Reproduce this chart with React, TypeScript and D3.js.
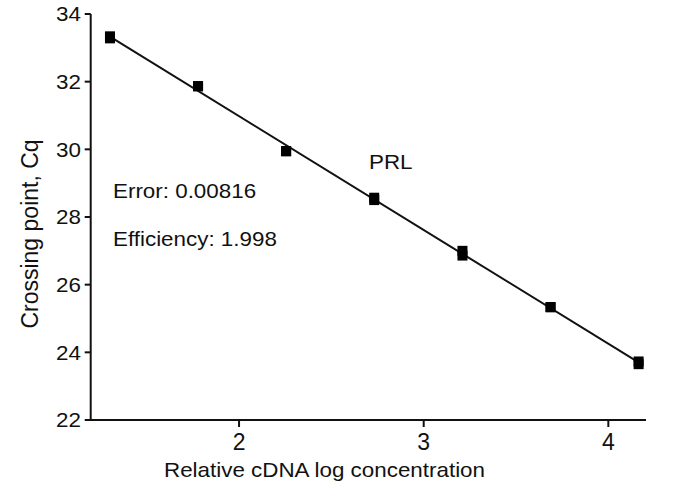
import React from "react";
import * as d3 from "d3";

const logConc = [1.301, 1.778, 2.255, 2.732, 3.21, 3.687, 4.164];
const cqRep1 = [33.34, 31.87, 29.95, 28.57, 27.0, 25.34, 23.73];
const cqRep2 = [33.28, 31.86, 29.94, 28.5, 26.86, 25.33, 23.65];
const xTicks = [2, 3, 4];
const yTicks = [22, 24, 26, 28, 30, 32, 34];
const geneLabel = "PRL";
const errorText = "Error: 0.00816";
const efficiencyText = "Efficiency: 1.998";
const xTitle = "Relative cDNA log concentration";
const yTitle = "Crossing point, Cq";

const W = 685;
const H = 499;
const FONT = "'Liberation Sans', Arial, Helvetica, sans-serif";
const SX = 1.12;

export default function App() {
  const x = d3.scaleLinear().domain([1.1966, 4.204]).range([90.7, 646]);
  const y = d3.scaleLinear().domain([22, 34]).range([420, 14]);

  const pts: { x: number; y: number }[] = [];
  logConc.forEach((c, i) => {
    pts.push({ x: c, y: cqRep1[i] });
    pts.push({ x: c, y: cqRep2[i] });
  });
  const mx = d3.mean(pts, (p) => p.x) as number;
  const my = d3.mean(pts, (p) => p.y) as number;
  const sxy = d3.sum(pts, (p) => (p.x - mx) * (p.y - my));
  const sxx = d3.sum(pts, (p) => (p.x - mx) * (p.x - mx));
  const slope = sxy / sxx;
  const intercept = my - slope * mx;
  const x0 = d3.min(logConc) as number;
  const x1 = d3.max(logConc) as number;
  const line = d3
    .line<number>()
    .x((d) => x(d))
    .y((d) => y(intercept + slope * d));

  const ms = 10;

  const stretched = (tx: number, ty: number, txt: string, anchor: string, size = 20) => (
    <g transform={`translate(${tx},${ty}) scale(${SX},1)`}>
      <text x={0} y={0} textAnchor={anchor as any} fontSize={size} fontFamily={FONT} fill="#111">
        {txt}
      </text>
    </g>
  );

  return (
    <svg
      width={W}
      height={H}
      style={{ position: "absolute", left: 0, top: 0, background: "#fff" }}
    >
      <rect x={0} y={0} width={W} height={H} fill="#fff" />
      {/* axes */}
      <line x1={x.range()[0]} x2={x.range()[0]} y1={y(34)} y2={y(22)} stroke="#111" strokeWidth={2} />
      <line x1={x.range()[0] - 1} x2={x.range()[1]} y1={y(22)} y2={y(22)} stroke="#111" strokeWidth={2} />
      {yTicks.map((t) => (
        <g key={"y" + t}>
          <line x1={x.range()[0] - 6} x2={x.range()[0]} y1={y(t)} y2={y(t)} stroke="#111" strokeWidth={2} />
          {stretched(81, y(t) + 7.3, String(t), "end")}
        </g>
      ))}
      {xTicks.map((t) => (
        <g key={"x" + t}>
          <line x1={x(t)} x2={x(t)} y1={y(22)} y2={y(22) + 7} stroke="#111" strokeWidth={2} />
          <text x={x(t)} y={450} textAnchor="middle" fontSize={23} fontFamily={FONT} fill="#111">
            {t}
          </text>
        </g>
      ))}
      {stretched(324.5, 476.7, xTitle, "middle")}
      <text
        transform={`translate(38.3,234) rotate(-90)`}
        textAnchor="middle"
        fontSize={23}
        fontFamily={FONT}
        fill="#111"
      >
        {yTitle}
      </text>
      {/* fit line */}
      <path d={line([x0, x1]) || ""} fill="none" stroke="#111" strokeWidth={2} />
      {/* markers */}
      {logConc.map((c, i) => (
        <g key={"m" + i}>
          <rect x={x(c) - ms / 2} y={y(cqRep1[i]) - ms / 2} width={ms} height={ms} fill="#000" />
          <rect x={x(c) - ms / 2} y={y(cqRep2[i]) - ms / 2} width={ms} height={ms} fill="#000" />
        </g>
      ))}
      {stretched(369, 169, geneLabel, "start")}
      {stretched(113, 198.3, errorText, "start")}
      {stretched(113, 246, efficiencyText, "start")}
    </svg>
  );
}
